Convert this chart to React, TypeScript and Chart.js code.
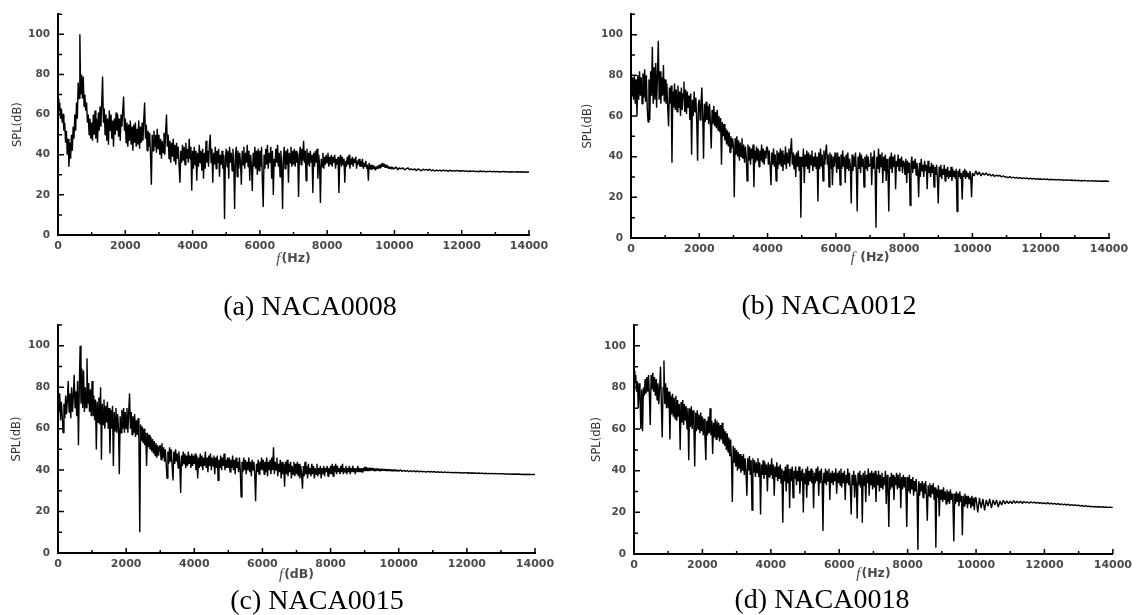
import React, { useEffect, useRef } from "react";
import { Chart, registerables } from "chart.js";

Chart.register(...registerables);

// ---------- data ----------
// Dense part of each spectrum: one value every 25 Hz from 0 to 9975 Hz (40 values per 1000 Hz row).
// Smooth tail: one value every 50 Hz from 10000 to 14000 Hz (20 values per row, plus the 14000 Hz end).
const DENSE_STEP_HZ = 25;
const TAIL_START_HZ = 10000;
const TAIL_STEP_HZ = 50;
const FREQ_MAX_HZ = 14000;
const X_TICK_STEP_HZ = 2000;
const X_MINOR_STEP_HZ = 1000;
const SPL_MAX_DB = 110;
const Y_TICK_STEP_DB = 20;
const Y_MINOR_STEP_DB = 10;
const Y_LABEL_MAX_DB = 100;

const SPL_NACA0008_DENSE = [
  68, 62, 66, 58, 63, 56, 60, 52, 56, 46, 52, 40, 48, 34, 46, 38, 50, 42, 54, 48, 60, 52, 66, 58, 76, 68, 100, 70, 80, 68, 79, 64, 70, 62, 66, 56, 60, 50, 58, 48,
  56, 47, 60, 50, 62, 48, 58, 46, 61, 52, 64, 54, 66, 79, 56, 63, 50, 60, 47, 58, 45, 62, 52, 60, 48, 57, 44, 58, 50, 61, 52, 60, 49, 58, 47, 60, 54, 62, 69, 52,
  58, 46, 56, 44, 55, 47, 57, 45, 54, 42, 55, 46, 56, 44, 53, 45, 57, 43, 54, 46, 56, 47, 58, 66, 48, 55, 42, 52, 44, 51, 40, 25, 50, 42, 52, 44, 50, 41, 53, 43,
  50, 40, 48, 38, 47, 41, 51, 40, 52, 60, 44, 50, 38, 47, 36, 46, 39, 48, 37, 45, 35, 46, 38, 44, 34, 26, 42, 36, 45, 37, 44, 35, 46, 38, 43, 36, 48, 38, 44, 22,
  42, 33, 44, 35, 42, 27, 41, 34, 45, 36, 42, 32, 43, 28, 41, 33, 47, 36, 42, 34, 45, 50, 36, 43, 26, 41, 35, 44, 33, 42, 36, 43, 29, 40, 35, 42, 33, 40, 8, 38,
  43, 34, 42, 28, 44, 36, 41, 32, 43, 35, 13, 40, 44, 29, 42, 33, 41, 36, 25, 42, 35, 44, 33, 41, 36, 45, 34, 42, 27, 40, 35, 22, 41, 34, 44, 33, 42, 30, 43, 32,
  42, 34, 44, 27, 14, 40, 33, 43, 35, 45, 33, 41, 36, 44, 28, 42, 20, 38, 34, 43, 36, 45, 34, 41, 29, 42, 35, 13, 38, 44, 33, 42, 35, 43, 26, 41, 36, 44, 34, 42,
  35, 43, 34, 42, 36, 41, 19, 39, 44, 35, 43, 37, 47, 36, 42, 27, 43, 35, 41, 34, 42, 36, 40, 21, 41, 34, 42, 36, 43, 28, 40, 35, 16, 38, 34, 41, 33, 39, 35, 40,
  36, 41, 34, 39, 35, 40, 34, 39, 36, 40, 33, 38, 35, 39, 21, 37, 40, 34, 39, 35, 38, 26, 37, 34, 39, 35, 40, 33, 38, 35, 39, 34, 38, 36, 39, 33, 37, 35, 38, 34,
  37, 34, 38, 33, 36, 34, 37, 33, 35, 27, 36, 33, 35, 32.5, 35, 33, 34.5, 32.5, 34, 33, 34.5, 33, 35, 33.5, 35.5, 34, 36, 34, 35.5, 33.5, 35, 33.5, 34.5, 33, 34, 33, 34, 32.8, 33.8, 33,
];
const SPL_NACA0008_TAIL = [
  33, 34, 32.5, 33.5, 33, 33.5, 32.5, 33, 33.5, 32.5, 33, 32.5, 33, 32, 33, 32.5, 32, 32.8, 32.3, 32.7,
  32.2, 32.8, 32, 32.5, 31.8, 32.4, 32, 32.3, 31.8, 32.4, 32, 32.2, 31.7, 32.3, 31.9, 32.1, 31.8, 32.2, 31.9, 32,
  31.8, 32.1, 31.7, 32, 31.6, 31.9, 31.7, 32, 31.6, 31.8, 31.5, 31.9, 31.6, 31.8, 31.5, 31.7, 31.6, 31.8, 31.5, 31.7,
  31.5, 31.7, 31.4, 31.6, 31.5, 31.7, 31.4, 31.6, 31.3, 31.5, 31.4, 31.6, 31.3, 31.5, 31.4, 31.5, 31.3, 31.5, 31.3, 31.4,
  31.4,
];

const SPL_NACA0012_DENSE = [
  76, 70, 79, 68, 80, 66, 78, 60, 80, 68, 82, 70, 79, 66, 81, 69, 83, 67, 80, 64, 57, 78, 58, 82, 70, 94, 66, 84, 68, 86, 64, 80, 97, 68, 82, 66, 79, 70, 85, 67,
  78, 66, 76, 64, 55, 74, 66, 75, 37, 72, 64, 76, 63, 73, 62, 75, 64, 72, 60, 74, 63, 71, 77, 62, 73, 61, 72, 64, 70, 58, 71, 41, 68, 60, 72, 62, 69, 58, 38, 66,
  68, 58, 66, 74, 60, 39, 66, 57, 67, 58, 65, 56, 66, 57, 44, 63, 56, 65, 55, 62, 54, 63, 53, 60, 52, 59, 36, 57, 50, 56, 48, 54, 46, 53, 45, 52, 42, 50, 44, 49,
  45, 20, 49, 41, 50, 40, 48, 38, 47, 40, 49, 39, 46, 37, 45, 40, 28, 46, 38, 45, 36, 44, 39, 46, 25, 43, 37, 45, 38, 44, 35, 43, 38, 46, 37, 44, 36, 43, 39, 45,
  44, 36, 43, 35, 26, 42, 36, 44, 35, 41, 28, 43, 34, 42, 36, 44, 35, 43, 33, 41, 36, 45, 34, 42, 37, 44, 35, 43, 49, 36, 42, 34, 41, 30, 42, 35, 43, 33, 40, 10,
  40, 35, 44, 27, 41, 35, 43, 34, 42, 32, 41, 36, 43, 33, 40, 35, 42, 34, 40, 18, 42, 34, 44, 35, 41, 28, 43, 36, 42, 46, 36, 41, 25, 42, 34, 41, 26, 40, 35, 42,
  38, 32, 42, 34, 40, 26, 41, 34, 43, 35, 40, 27, 41, 34, 42, 33, 39, 35, 17, 41, 33, 40, 35, 42, 33, 13, 40, 34, 42, 32, 41, 35, 39, 25, 40, 34, 41, 33, 40, 35,
  36, 42, 26, 40, 34, 43, 33, 5, 40, 34, 44, 32, 41, 35, 42, 27, 40, 33, 41, 28, 39, 34, 13, 40, 34, 42, 32, 40, 35, 41, 24, 38, 35, 41, 33, 39, 35, 40, 32, 38,
  37, 31, 39, 27, 38, 32, 37, 16, 36, 40, 32, 38, 34, 39, 31, 37, 33, 20, 37, 30, 39, 33, 36, 30, 38, 33, 36, 24, 38, 32, 35, 30, 37, 32, 36, 25, 35, 31, 36, 29,
  17, 35, 30, 36, 29, 34, 31, 36, 28, 34, 30, 35, 29, 33, 30, 35, 28, 34, 30, 33, 29, 34, 13, 33, 30, 34, 29, 32, 19, 33, 30, 34, 29, 33, 30, 32, 29, 33, 30, 20,
];
const SPL_NACA0012_TAIL = [
  32, 30.5, 33, 31, 32.5, 30.5, 32, 31, 32, 30.8, 31.5, 30.5, 31.2, 30.2, 31, 30.4, 30.8, 30, 30.6, 30,
  30, 29.6, 30.2, 29.5, 30, 29.4, 29.8, 29.3, 29.7, 29.2, 29.6, 29.2, 29.5, 29, 29.4, 29, 29.3, 28.9, 29.2, 28.9,
  29, 28.8, 29.1, 28.7, 29, 28.6, 28.9, 28.6, 28.8, 28.5, 28.8, 28.5, 28.7, 28.4, 28.6, 28.4, 28.6, 28.3, 28.5, 28.3,
  28.4, 28.2, 28.4, 28.1, 28.3, 28.1, 28.3, 28, 28.2, 28, 28.2, 28, 28.1, 27.9, 28.1, 27.9, 28, 27.9, 28, 27.9,
  27.9,
];

const SPL_NACA0015_DENSE = [
  74, 68, 77, 64, 73, 66, 58, 72, 65, 76, 67, 74, 83, 68, 77, 65, 80, 68, 76, 86, 70, 78, 66, 83, 52, 80, 100, 72, 89, 70, 88, 68, 80, 70, 94, 72, 82, 68, 79, 66,
  83, 66, 76, 64, 74, 50, 73, 63, 75, 62, 80, 45, 72, 62, 74, 60, 71, 63, 73, 60, 70, 48, 69, 60, 71, 42, 68, 59, 70, 58, 67, 60, 38, 66, 58, 69, 60, 70, 58, 68,
  60, 70, 58, 68, 77, 60, 68, 57, 66, 58, 67, 56, 64, 57, 65, 55, 10, 62, 54, 61, 53, 60, 52, 58, 42, 58, 51, 57, 50, 56, 49, 55, 48, 54, 47, 53, 46, 52, 47, 51,
  52, 45, 53, 46, 51, 44, 50, 43, 36, 49, 43, 51, 44, 50, 42, 35, 49, 43, 50, 44, 48, 41, 49, 43, 29, 47, 42, 49, 43, 48, 41, 47, 42, 49, 43, 47, 41, 48, 42, 47,
  43, 48, 40, 47, 36, 46, 41, 48, 42, 47, 40, 46, 42, 49, 41, 46, 39, 47, 42, 48, 40, 46, 42, 47, 38, 46, 41, 47, 35, 45, 41, 47, 40, 46, 42, 48, 40, 45, 41, 46,
  41, 46, 39, 45, 41, 47, 40, 45, 38, 46, 41, 44, 39, 46, 40, 27, 44, 39, 46, 40, 45, 38, 44, 40, 46, 39, 44, 37, 45, 40, 44, 38, 25, 43, 39, 45, 38, 44, 40, 46,
  40, 45, 38, 44, 39, 46, 37, 44, 40, 45, 38, 46, 40, 51, 38, 44, 40, 46, 37, 43, 39, 45, 36, 44, 38, 43, 32, 44, 38, 45, 37, 43, 39, 44, 36, 42, 38, 44, 37, 43,
  38, 44, 37, 43, 36, 42, 38, 31, 42, 37, 44, 38, 42, 36, 43, 38, 41, 37, 43, 38, 42, 36, 41, 38, 43, 37, 41, 38, 42, 36, 41, 38, 42, 37, 41, 39, 42, 37, 41, 38,
  42, 38, 43, 37, 42, 39, 43, 38, 42, 39, 41, 38, 42, 39, 43, 38, 41, 39, 42, 38, 41, 39, 42, 38, 41, 39, 42, 39, 41, 38, 41, 39, 42, 39, 41, 39, 41, 39, 41, 39.5,
  41.5, 39.5, 41.5, 39.5, 41, 39.5, 41.2, 39.6, 41, 39.8, 41, 39.6, 40.8, 39.6, 40.8, 39.7, 40.8, 39.7, 40.6, 39.6, 40.6, 39.7, 40.5, 39.7, 40.5, 39.6, 40.4, 39.6, 40.4, 39.6, 40.3, 39.6, 40.3, 39.5, 40.2, 39.5, 40.2, 39.5, 40.1, 39.5,
];
const SPL_NACA0015_TAIL = [
  39.5, 40.2, 39.3, 39.9, 39.4, 39.8, 39.2, 39.7, 39.3, 39.6, 39.2, 39.6, 39.1, 39.5, 39.2, 39.4, 39, 39.4, 39.1, 39.3,
  39.1, 39.3, 38.9, 39.2, 38.9, 39.1, 38.8, 39.1, 38.8, 39, 38.8, 38.9, 38.7, 38.9, 38.7, 38.9, 38.6, 38.8, 38.6, 38.8,
  38.6, 38.7, 38.5, 38.7, 38.5, 38.6, 38.4, 38.6, 38.4, 38.5, 38.3, 38.5, 38.3, 38.4, 38.3, 38.4, 38.2, 38.4, 38.2, 38.3,
  38.2, 38.3, 38.1, 38.2, 38.1, 38.2, 38, 38.1, 38, 38.1, 38, 38.1, 37.9, 38, 37.9, 38, 37.9, 38, 37.8, 37.9,
  37.9,
];

const SPL_NACA0018_DENSE = [
  88, 82, 86, 78, 83, 70, 82, 76, 60, 79, 59, 80, 76, 84, 77, 85, 78, 86, 76, 62, 86, 79, 87, 78, 85, 76, 84, 74, 82, 72, 80, 90, 72, 56, 80, 93, 72, 82, 70, 80,
  70, 78, 55, 76, 67, 77, 66, 75, 65, 76, 64, 74, 66, 72, 50, 73, 63, 74, 62, 72, 64, 71, 60, 70, 45, 70, 61, 71, 60, 69, 62, 42, 68, 59, 69, 60, 67, 58, 68, 59,
  66, 57, 65, 56, 45, 64, 57, 66, 58, 70, 57, 64, 48, 63, 56, 65, 55, 64, 56, 63, 54, 62, 55, 63, 53, 60, 52, 59, 50, 58, 49, 56, 47, 55, 45, 25, 52, 44, 51, 42,
  50, 40, 49, 41, 48, 39, 47, 40, 48, 38, 46, 39, 28, 46, 40, 47, 38, 45, 21, 46, 39, 45, 37, 44, 39, 46, 37, 44, 19, 43, 38, 45, 36, 44, 38, 43, 30, 44, 37, 43,
  38, 46, 36, 43, 28, 42, 37, 44, 35, 42, 36, 43, 34, 41, 15, 40, 35, 42, 30, 43, 34, 41, 22, 41, 35, 42, 27, 40, 36, 42, 33, 40, 35, 42, 29, 40, 35, 41, 20, 39,
  34, 41, 27, 42, 33, 40, 35, 41, 34, 40, 22, 39, 34, 41, 35, 42, 28, 40, 34, 41, 35, 11, 39, 34, 41, 33, 40, 35, 41, 26, 39, 34, 40, 33, 39, 35, 41, 29, 39, 34,
  40, 33, 41, 32, 39, 34, 40, 26, 38, 34, 41, 33, 39, 32, 19, 38, 33, 40, 27, 38, 34, 17, 39, 33, 40, 32, 38, 15, 39, 33, 40, 25, 38, 34, 41, 28, 39, 33, 40, 31,
  39, 32, 40, 25, 38, 33, 40, 30, 38, 32, 39, 31, 37, 33, 40, 24, 38, 32, 13, 37, 31, 39, 32, 38, 26, 37, 33, 39, 31, 38, 32, 39, 22, 37, 31, 38, 32, 37, 30, 13,
  37, 30, 38, 29, 36, 31, 37, 28, 35, 30, 36, 29, 2, 35, 28, 34, 30, 35, 27, 34, 29, 35, 28, 16, 33, 28, 34, 27, 33, 29, 34, 26, 32, 3, 31, 27, 33, 18, 31, 26,
  31, 25, 32, 26, 30, 24, 31, 25, 30, 24, 31, 26, 29, 24, 6, 29, 24, 30, 25, 29, 23, 30, 25, 28, 9, 28, 23, 29, 24, 28, 22, 28, 24, 27, 22, 28, 23, 27, 21, 27,
];
const SPL_NACA0018_TAIL = [
  27, 20, 27, 22, 26.5, 21, 26, 23, 26.5, 22, 26, 23.5, 26, 22.5, 25.5, 23.5, 25.8, 24, 25.5, 24.2,
  25.4, 24.2, 25.6, 24.4, 25.3, 24.5, 25.4, 24.3, 25.2, 24.6, 25, 24.4, 25.1, 24.5, 24.9, 24.4, 24.8, 24.3, 24.7, 24.2,
  24.6, 24.1, 24.7, 24, 24.5, 23.9, 24.3, 23.8, 24.2, 23.7, 24.1, 23.6, 24, 23.5, 23.9, 23.4, 23.7, 23.3, 23.6, 23.2,
  23.5, 23, 23.3, 22.9, 23.2, 22.8, 23, 22.7, 22.9, 22.6, 22.8, 22.6, 22.7, 22.5, 22.7, 22.4, 22.6, 22.4, 22.5, 22.4,
  22.4,
];

const CAPTIONS = ["(a) NACA0008", "(b) NACA0012", "(c) NACA0015", "(d) NACA0018"];
const X_TITLE_SUFFIXES = ["(Hz)", " (Hz)", "(dB)", "(Hz)"]; // follows an italic "f"
const Y_TITLE = "SPL(dB)";

// ---------- layout (page pixels) ----------
type Panel = {
  dense: number[];
  tail: number[];
  caption: string;
  xSuffix: string;
  canvas: { left: number; top: number; width: number; height: number };
  area: { left: number; right: number; top: number; bottom: number };
  captionPos: { x: number; y: number };
  yTitleGap: number;
  xTitleGap: number;
};

const PANELS: Panel[] = [
  {
    dense: SPL_NACA0008_DENSE, tail: SPL_NACA0008_TAIL, caption: CAPTIONS[0], xSuffix: X_TITLE_SUFFIXES[0],
    canvas: { left: 0, top: 0, width: 575, height: 280 },
    area: { left: 58, right: 529, top: 11, bottom: 235 },
    captionPos: { x: 310, y: 306 }, yTitleGap: 40, xTitleGap: 24,
  },
  {
    dense: SPL_NACA0012_DENSE, tail: SPL_NACA0012_TAIL, caption: CAPTIONS[1], xSuffix: X_TITLE_SUFFIXES[1],
    canvas: { left: 575, top: 0, width: 562, height: 280 },
    area: { left: 631, right: 1109, top: 9, bottom: 238 },
    captionPos: { x: 829, y: 305 }, yTitleGap: 43, xTitleGap: 20,
  },
  {
    dense: SPL_NACA0015_DENSE, tail: SPL_NACA0015_TAIL, caption: CAPTIONS[2], xSuffix: X_TITLE_SUFFIXES[2],
    canvas: { left: 0, top: 300, width: 575, height: 290 },
    area: { left: 58, right: 535, top: 325, bottom: 553 },
    captionPos: { x: 317, y: 600 }, yTitleGap: 41, xTitleGap: 22,
  },
  {
    dense: SPL_NACA0018_DENSE, tail: SPL_NACA0018_TAIL, caption: CAPTIONS[3], xSuffix: X_TITLE_SUFFIXES[3],
    canvas: { left: 575, top: 300, width: 562, height: 290 },
    area: { left: 634, right: 1114, top: 325, bottom: 554 },
    captionPos: { x: 822, y: 599 }, yTitleGap: 37, xTitleGap: 20,
  },
];

const WIDE_SANS = '"DejaVu Sans", Verdana, sans-serif';
const SERIF = '"Liberation Serif", "Times New Roman", Times, serif';
const LABEL_GREY = "#4a4a4a";

const axisDecor = {
  id: "axisDecor",
  afterDraw(chart: any, _args: any, opts: any) {
    const { ctx, chartArea: a } = chart;
    const xs = chart.scales.x;
    const ys = chart.scales.y;
    ctx.save();
    ctx.strokeStyle = "#000";
    ctx.lineWidth = 1.5;
    ctx.beginPath();
    for (let v = 0; v <= FREQ_MAX_HZ; v += X_MINOR_STEP_HZ) {
      const px = xs.getPixelForValue(v);
      const len = v % X_TICK_STEP_HZ === 0 ? 5 : 3;
      ctx.moveTo(px, a.bottom);
      ctx.lineTo(px, a.bottom - len);
    }
    for (let v = 0; v <= SPL_MAX_DB; v += Y_MINOR_STEP_DB) {
      const py = ys.getPixelForValue(v);
      const len = v % Y_TICK_STEP_DB === 0 ? 6 : 4;
      ctx.moveTo(a.left, py);
      ctx.lineTo(a.left + len, py);
    }
    ctx.stroke();
    ctx.restore();

    ctx.save();
    ctx.fillStyle = "#333";
    ctx.font = `11.5px ${WIDE_SANS}`;
    ctx.textAlign = "center";
    ctx.textBaseline = "middle";
    ctx.translate(a.left - opts.yTitleGap, (a.top + a.bottom) / 2);
    ctx.rotate(-Math.PI / 2);
    ctx.fillText(Y_TITLE, 0, 0);
    ctx.restore();

    ctx.save();
    ctx.textAlign = "left";
    ctx.textBaseline = "middle";
    const fFont = `italic 15px ${SERIF}`;
    const rFont = `bold 12.5px ${WIDE_SANS}`;
    ctx.font = fFont;
    const wf = ctx.measureText("f").width;
    ctx.font = rFont;
    const wr = ctx.measureText(opts.xSuffix).width;
    const cx = (a.left + a.right) / 2;
    const x0 = cx - (wf + 1 + wr) / 2;
    const ty = a.bottom + opts.xTitleGap;
    ctx.fillStyle = LABEL_GREY;
    ctx.font = fFont;
    ctx.fillText("f", x0, ty);
    ctx.font = rFont;
    ctx.fillText(opts.xSuffix, x0 + wf + 1, ty);
    ctx.restore();
  },
};

function toPoints(dense: number[], tail: number[]) {
  const pts = dense.map((y, i) => ({ x: i * DENSE_STEP_HZ, y }));
  tail.forEach((y, i) => pts.push({ x: TAIL_START_HZ + i * TAIL_STEP_HZ, y }));
  return pts;
}

function SpectrumPanel({ panel }: { panel: Panel }) {
  const ref = useRef<HTMLCanvasElement | null>(null);

  useEffect(() => {
    const canvas = ref.current;
    if (!canvas) return;
    const c = panel.canvas;
    const areaLeft = panel.area.left - c.left;
    const areaRight = panel.area.right - c.left;
    const areaTop = panel.area.top - c.top;
    const areaBottom = panel.area.bottom - c.top;

    const chart = new Chart(canvas, {
      type: "line",
      data: {
        datasets: [
          {
            data: toPoints(panel.dense, panel.tail),
            borderColor: "#000",
            borderWidth: 1.4,
            pointRadius: 0,
            tension: 0,
            borderJoinStyle: "bevel",
          } as any,
        ],
      },
      options: {
        animation: false,
        responsive: false,
        events: [],
        layout: { padding: { left: 0, top: areaTop, right: c.width - areaRight, bottom: 0 } },
        plugins: {
          legend: { display: false },
          tooltip: { enabled: false },
          axisDecor: { yTitleGap: panel.yTitleGap, xTitleGap: panel.xTitleGap, xSuffix: panel.xSuffix },
        } as any,
        scales: {
          x: {
            type: "linear",
            min: 0,
            max: FREQ_MAX_HZ,
            afterFit: (s: any) => {
              s.height = c.height - areaBottom;
            },
            grid: { display: false, drawTicks: false },
            border: { display: true, color: "#000", width: 2 },
            ticks: {
              stepSize: X_TICK_STEP_HZ,
              autoSkip: false,
              maxRotation: 0,
              padding: 5,
              color: LABEL_GREY,
              font: { family: WIDE_SANS, size: 11, weight: "bold" },
              callback: (v: any) => String(v),
            },
          },
          y: {
            type: "linear",
            min: 0,
            max: SPL_MAX_DB,
            afterFit: (s: any) => {
              s.width = areaLeft;
            },
            grid: { display: false, drawTicks: false },
            border: { display: true, color: "#000", width: 2 },
            ticks: {
              stepSize: Y_TICK_STEP_DB,
              includeBounds: false,
              autoSkip: false,
              padding: 8,
              color: LABEL_GREY,
              font: { family: WIDE_SANS, size: 10.5, weight: "bold" },
              callback: (v: any) => (Number(v) <= Y_LABEL_MAX_DB ? String(v) : ""),
            },
          },
        },
      } as any,
      plugins: [axisDecor],
    });
    return () => chart.destroy();
  }, [panel]);

  const c = panel.canvas;
  return (
    <canvas
      ref={ref}
      width={c.width}
      height={c.height}
      style={{ position: "absolute", left: c.left, top: c.top, width: c.width, height: c.height, display: "block" }}
    />
  );
}

export default function App() {
  return (
    <div
      style={{
        position: "fixed",
        left: 0,
        top: 0,
        width: 1137,
        height: 615,
        background: "#fff",
        overflow: "hidden",
      }}
    >
      {PANELS.map((p) => (
        <SpectrumPanel key={p.caption} panel={p} />
      ))}
      {PANELS.map((p) => (
        <div
          key={p.caption + "-cap"}
          style={{
            position: "absolute",
            left: p.captionPos.x,
            top: p.captionPos.y,
            transform: "translate(-50%, -50%)",
            fontFamily: SERIF,
            fontSize: 28,
            color: "#000",
            whiteSpace: "nowrap",
            lineHeight: 1,
          }}
        >
          {p.caption}
        </div>
      ))}
    </div>
  );
}
